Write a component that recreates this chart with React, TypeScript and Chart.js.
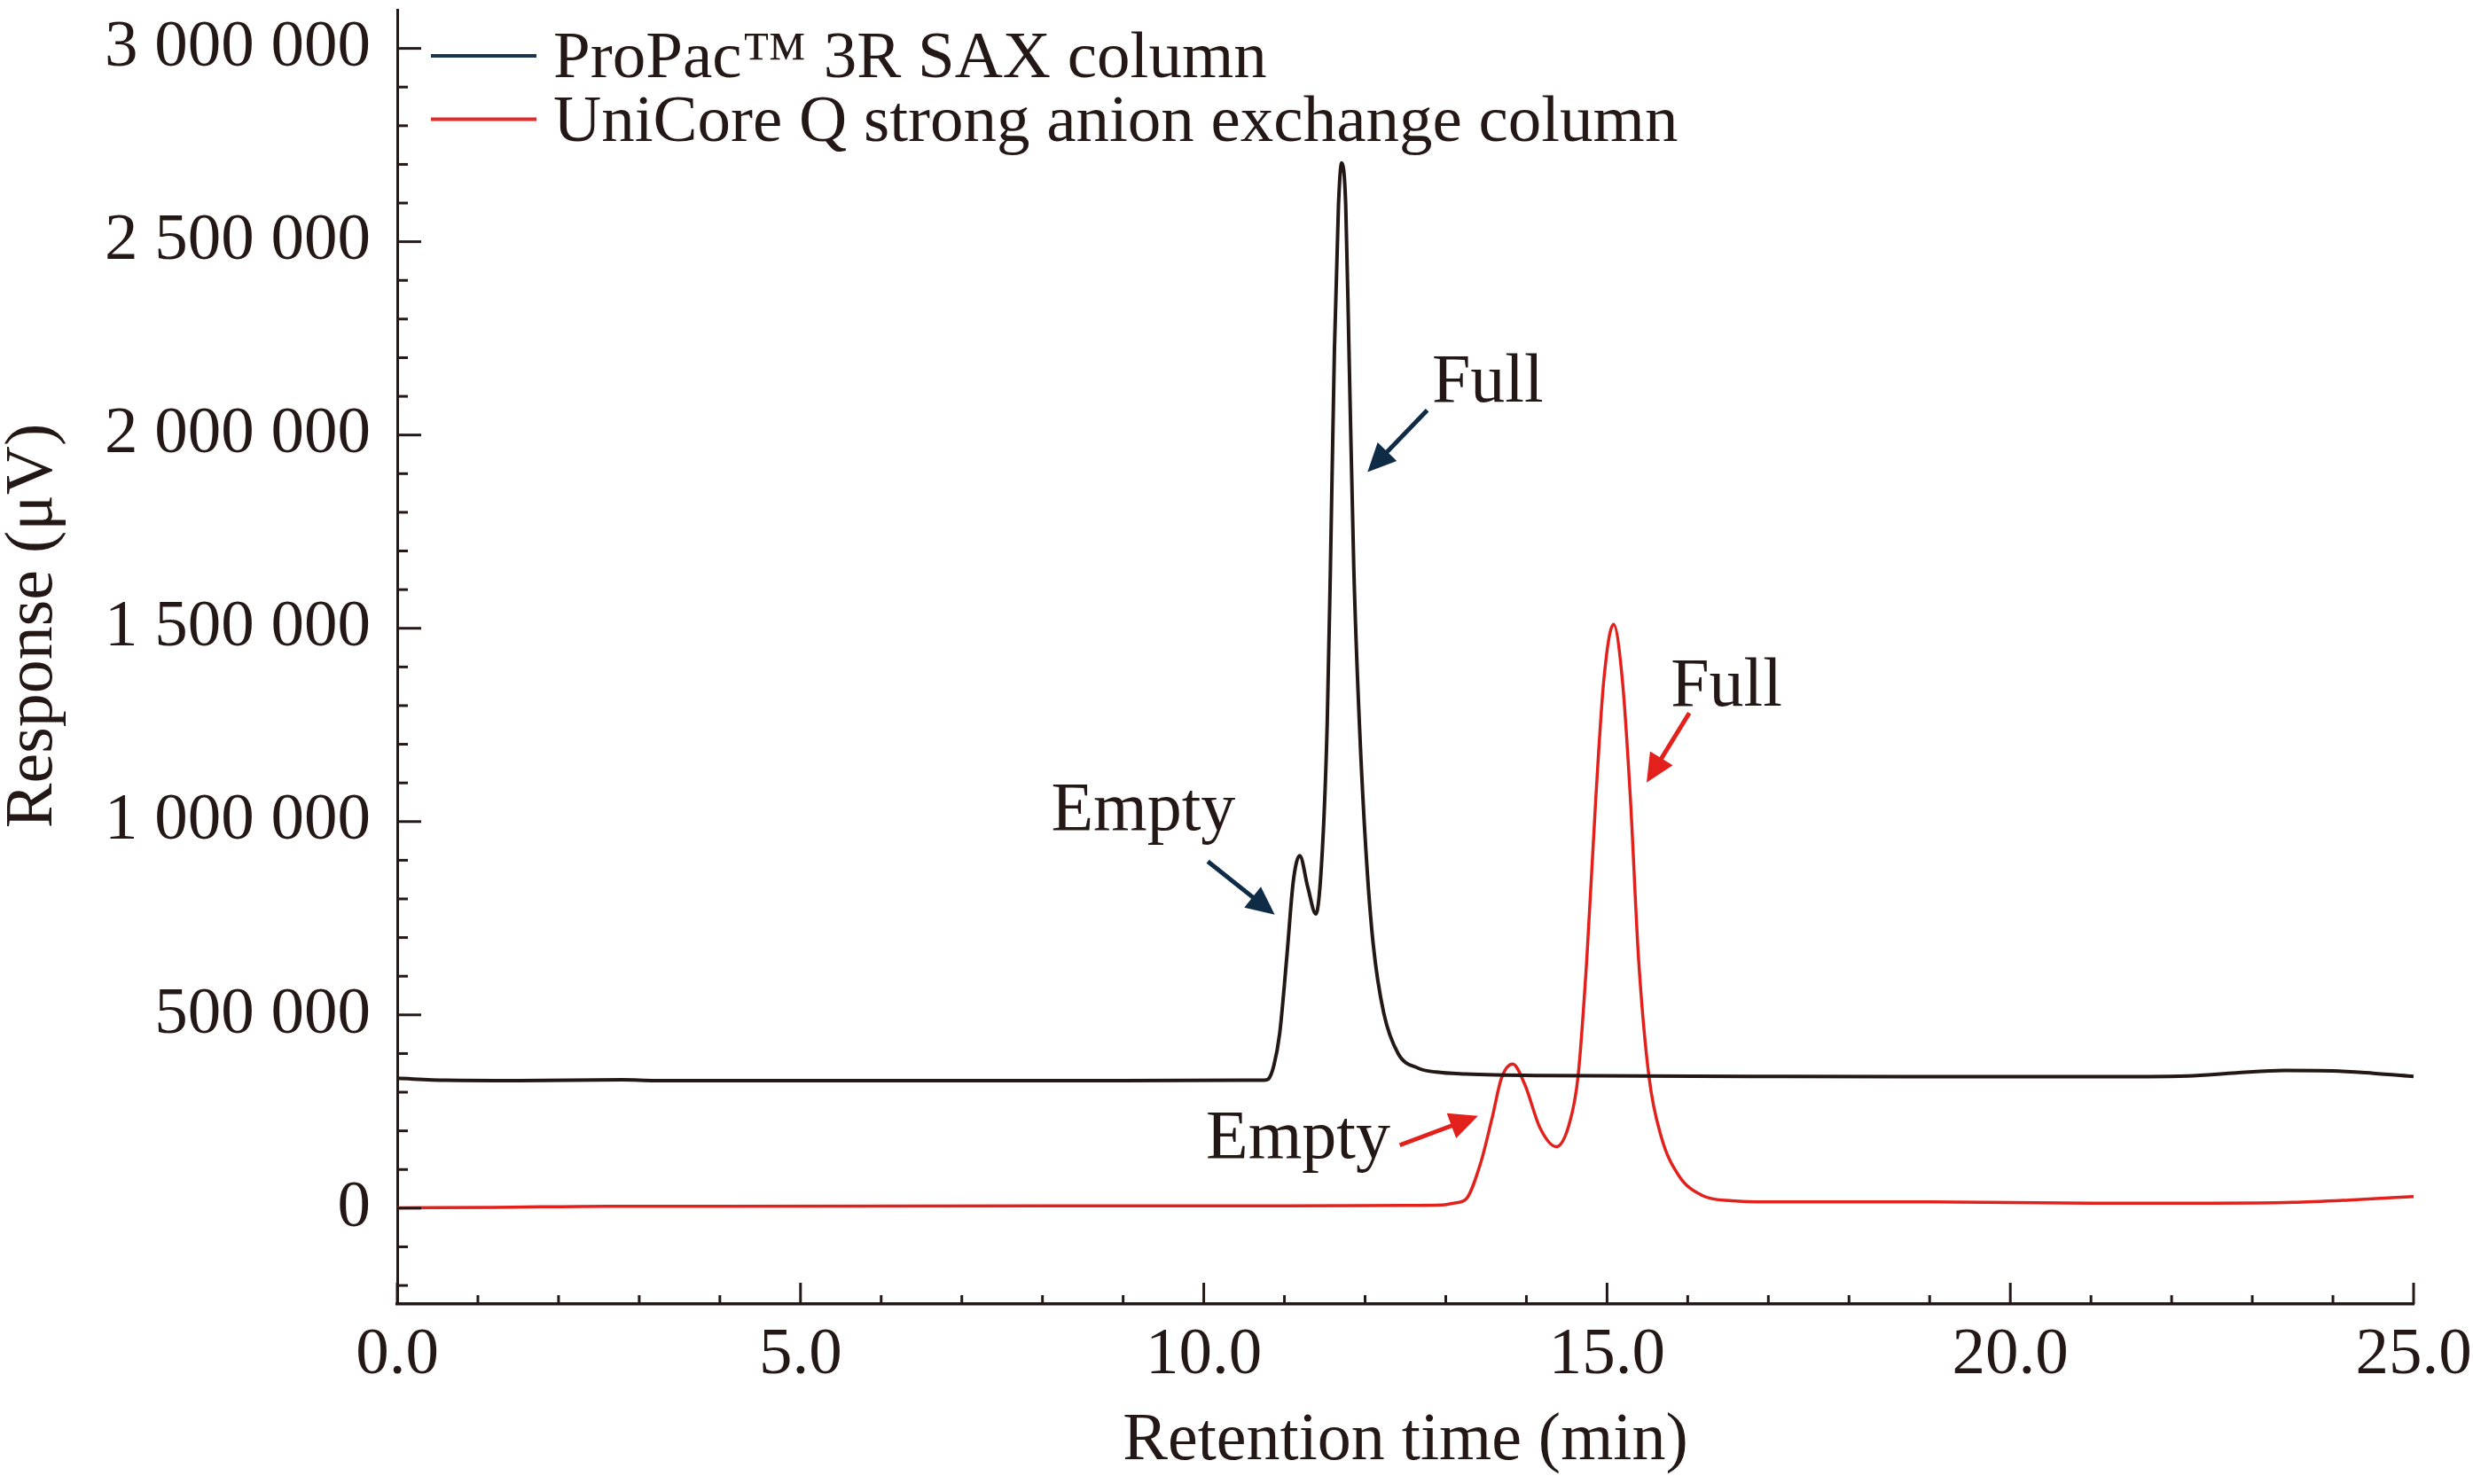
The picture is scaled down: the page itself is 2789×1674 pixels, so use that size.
import React, { useEffect, useRef } from 'react'
import { Chart, registerables } from 'chart.js'
Chart.register(...registerables)

const FONT = "'Liberation Serif', 'Times New Roman', serif"
const INK = '#231815'
const NAVY = '#0f2c46'
const RED = '#e3211c'

// ProPac 3R SAX column (black trace)
const blackTime = [0.0, 0.6, 1.5, 2.8, 3.2, 6.0, 9.0, 10.5, 10.75, 10.8, 10.87, 10.94, 11.03, 11.11, 11.19, 11.29, 11.39, 11.47, 11.53, 11.57, 11.62, 11.67, 11.71, 11.76, 11.8, 11.86, 11.93, 12.01, 12.1, 12.23, 12.41, 12.66, 12.88, 13.25, 14.2, 16.8, 19.0, 21.0, 22.2, 22.8, 23.4, 24.0, 24.5, 25.0]
const blackResponse = [336000, 331000, 330000, 332000, 330000, 330000, 330000, 331000, 331000, 334000, 370000, 450000, 651000, 846000, 912000, 830000, 761000, 926000, 1251000, 1655000, 2222000, 2594000, 2704000, 2594000, 2222000, 1655000, 1251000, 926000, 684000, 506000, 400000, 362000, 352000, 347000, 343000, 341000, 340000, 340000, 342000, 350000, 356000, 355000, 349000, 341000]

// UniCore Q strong anion exchange column (red trace)
const redTime = [0.0, 1.2, 2.6, 4.0, 8.0, 11.0, 12.5, 12.95, 13.1, 13.25, 13.43, 13.58, 13.69, 13.83, 13.98, 14.17, 14.37, 14.53, 14.64, 14.75, 14.86, 14.96, 15.08, 15.19, 15.29, 15.39, 15.52, 15.67, 15.89, 16.18, 16.55, 17.0, 19.0, 21.0, 22.5, 23.5, 24.2, 25.0]
const redResponse = [1000, 2000, 5000, 5000, 6000, 6000, 7000, 8000, 13000, 23000, 115000, 238000, 336000, 373000, 320000, 207000, 159000, 217000, 340000, 648000, 1058000, 1366000, 1510000, 1366000, 1058000, 648000, 340000, 186000, 84000, 33000, 19000, 16000, 16000, 13000, 13000, 15000, 21000, 30000]

const seriesLabels = ['ProPac\u2122 3R SAX column', 'UniCore Q strong anion exchange column']

const xMajorTicks = [0, 5, 10, 15, 20, 25]
const yMajorTicks = [0, 500000, 1000000, 1500000, 2000000, 2500000, 3000000]
const yMin = -248000
const yMax = 3100000

// arrow labels, in data units: text centre, arrow tail, arrow tip
const notes = [
  { text: 'Full', at: [13.52, 2145000], from: [12.77, 2064000], to: [12.03, 1904000], color: NAVY },
  { text: 'Empty', at: [9.25, 1039000], from: [10.05, 897000], to: [10.88, 759000], color: NAVY },
  { text: 'Full', at: [16.48, 1359000], from: [16.02, 1281000], to: [15.49, 1101000], color: RED },
  { text: 'Empty', at: [11.17, 189000], from: [12.43, 163000], to: [13.4, 239000], color: RED },
]

const spaced = (v: number) => String(v).replace(/\B(?=(\d{3})+(?!\d))/g, ' ')

function arrow(ctx: CanvasRenderingContext2D, x0: number, y0: number, x1: number, y1: number, color: string) {
  const ang = Math.atan2(y1 - y0, x1 - x0)
  const hl = 32, hw = 15
  const bx = x1 - hl * Math.cos(ang), by = y1 - hl * Math.sin(ang)
  ctx.strokeStyle = color
  ctx.fillStyle = color
  ctx.lineWidth = 5
  ctx.beginPath()
  ctx.moveTo(x0, y0)
  ctx.lineTo(bx + 4 * Math.cos(ang), by + 4 * Math.sin(ang))
  ctx.stroke()
  ctx.beginPath()
  ctx.moveTo(x1, y1)
  ctx.lineTo(bx + hw * Math.sin(ang), by - hw * Math.cos(ang))
  ctx.lineTo(bx - hw * Math.sin(ang), by + hw * Math.cos(ang))
  ctx.closePath()
  ctx.fill()
}

const decor = {
  id: 'decor',
  afterDraw(chart: any) {
    const { ctx, chartArea: a, scales: { x, y } } = chart
    ctx.save()
    ctx.strokeStyle = INK
    ctx.lineWidth = 3
    // inward tick marks
    for (let t = 0; t <= 25; t++) {
      const px = x.getPixelForValue(t)
      const len = t % 5 === 0 ? 24 : 10
      ctx.beginPath()
      ctx.moveTo(px, a.bottom)
      ctx.lineTo(px, a.bottom - len)
      ctx.stroke()
    }
    for (let v = -200000; v <= 3000000; v += 100000) {
      const py = y.getPixelForValue(v)
      const len = v % 500000 === 0 ? 27 : 12
      ctx.beginPath()
      ctx.moveTo(a.left, py)
      ctx.lineTo(a.left + len, py)
      ctx.stroke()
    }

    // y axis title
    ctx.fillStyle = INK
    ctx.font = `76px ${FONT}`
    ctx.textAlign = 'center'
    ctx.textBaseline = 'middle'
    ctx.save()
    ctx.translate(38, (a.top + a.bottom) / 2 - 35)
    ctx.rotate(-Math.PI / 2)
    ctx.fillText('Response (\u03bcV)', 0, 0)
    ctx.restore()

    // legend
    const legendColors = ['#1b3550', '#e52a2a']
    seriesLabels.forEach((label, i) => {
      const cy = a.top + 52 + i * 71.5
      ctx.strokeStyle = legendColors[i]
      ctx.lineWidth = 4
      ctx.beginPath()
      ctx.moveTo(a.left + 38, cy)
      ctx.lineTo(a.left + 157, cy)
      ctx.stroke()
      ctx.fillStyle = INK
      ctx.font = `75px ${FONT}`
      ctx.textAlign = 'left'
      ctx.textBaseline = 'alphabetic'
      ctx.fillText(label, a.left + 176, cy + 24)
    })

    // peak labels with arrows
    notes.forEach(n => {
      ctx.fillStyle = INK
      ctx.font = `78px ${FONT}`
      ctx.textAlign = 'center'
      ctx.textBaseline = 'alphabetic'
      ctx.fillText(n.text, x.getPixelForValue(n.at[0]), y.getPixelForValue(n.at[1]) + 26)
      arrow(ctx, x.getPixelForValue(n.from[0]), y.getPixelForValue(n.from[1]),
        x.getPixelForValue(n.to[0]), y.getPixelForValue(n.to[1]), n.color)
    })
    ctx.restore()
  },
}

export default function App() {
  const ref = useRef<HTMLCanvasElement | null>(null)
  useEffect(() => {
    if (!ref.current) return
    const chart = new Chart(ref.current, {
      type: 'line',
      data: {
        datasets: [
          {
            label: seriesLabels[0],
            data: blackTime.map((t, i) => ({ x: t, y: blackResponse[i] })),
            borderColor: INK,
            borderWidth: 4,
            pointRadius: 0,
            cubicInterpolationMode: 'monotone',
            fill: false,
          },
          {
            label: seriesLabels[1],
            data: redTime.map((t, i) => ({ x: t, y: redResponse[i] })),
            borderColor: RED,
            borderWidth: 3.5,
            pointRadius: 0,
            cubicInterpolationMode: 'monotone',
            fill: false,
          },
        ],
      },
      options: {
        animation: false,
        responsive: true,
        maintainAspectRatio: false,
        layout: { padding: { top: 11, right: 67, bottom: 0, left: 0 }, autoPadding: false },
        plugins: { legend: { display: false }, tooltip: { enabled: false } },
        scales: {
          x: {
            type: 'linear',
            min: 0,
            max: 25,
            afterBuildTicks: (s: any) => { s.ticks = xMajorTicks.map(value => ({ value })) },
            afterFit: (s: any) => { s.height = 203; s.paddingLeft = 0; s.paddingRight = 0 },
            ticks: {
              padding: 13,
              maxRotation: 0,
              autoSkip: false,
              color: INK,
              font: { family: FONT, size: 75 },
              callback: (v: any) => Number(v).toFixed(1),
            },
            grid: { display: false, drawTicks: false },
            border: { display: true, color: INK, width: 3.5 },
            title: {
              display: true,
              text: 'Retention time (min)',
              color: INK,
              font: { family: FONT, size: 76, lineHeight: 1.2 },
              padding: { top: 0, bottom: 2 },
            },
          },
          y: {
            type: 'linear',
            min: yMin,
            max: yMax,
            afterBuildTicks: (s: any) => { s.ticks = yMajorTicks.map(value => ({ value })) },
            afterFit: (s: any) => { s.width = 448; s.paddingTop = 0; s.paddingBottom = 0 },
            ticks: {
              padding: 30,
              color: INK,
              font: { family: FONT, size: 75 },
              callback: (v: any) => spaced(Number(v)),
            },
            grid: { display: false, drawTicks: false },
            border: { display: true, color: INK, width: 3 },
          },
        },
      },
      plugins: [decor],
    })
    return () => chart.destroy()
  }, [])
  return (
    <div style={{ position: 'fixed', left: 0, top: 0, width: '100vw', height: '100vh', background: '#fff' }}>
      <canvas ref={ref} />
    </div>
  )
}
